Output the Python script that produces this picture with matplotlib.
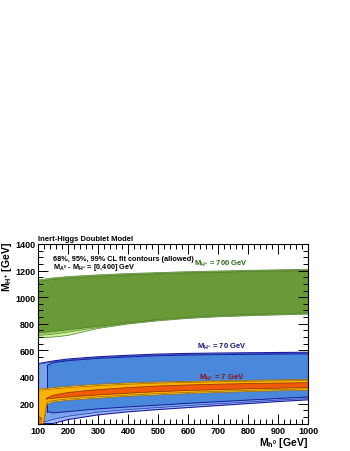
import matplotlib
matplotlib.use("Agg")
import matplotlib.pyplot as plt
import numpy as np
from matplotlib.ticker import MultipleLocator

plt.rcParams['font.family'] = ['Liberation Sans', 'DejaVu Sans']
plt.rcParams['mathtext.fontset'] = 'custom'
plt.rcParams['mathtext.rm'] = 'Liberation Sans:bold'
plt.rcParams['mathtext.it'] = 'Liberation Sans:bold'
plt.rcParams['mathtext.bf'] = 'Liberation Sans:bold'

# ---- data ----
mh = [100, 150, 200, 300, 400, 500, 600, 700, 800, 900, 1000]

# M_H+ = 700 GeV
g99_hi = [1130, 1145, 1155, 1168, 1178, 1185, 1192, 1197, 1202, 1206, 1210]
g95_hi = [1124, 1139, 1149, 1162, 1172, 1180, 1187, 1192, 1197, 1201, 1205]
g68_hi = [1118, 1133, 1143, 1157, 1167, 1175, 1182, 1187, 1192, 1196, 1200]
g99_lo = [695, 700, 712, 765, 798, 822, 840, 852, 860, 866, 872]
g95_lo = [712, 722, 738, 772, 803, 827, 845, 857, 865, 871, 877]
g68_lo = [730, 742, 755, 780, 808, 832, 850, 862, 870, 876, 882]

# M_H+ = 70 GeV
b99_hi = [500, 520, 535, 552, 563, 572, 577, 580, 582, 584, 586]
b95_hi = [496, 514, 529, 546, 557, 566, 571, 574, 576, 578, 580]
b99_lo = [50, 50, 80, 115, 138, 155, 170, 185, 200, 215, 228]
b95_lo = [50, 80, 105, 135, 155, 170, 185, 198, 212, 226, 238]
mh68b = [131, 150, 200, 300, 400, 500, 600, 700, 800, 900, 1000]
b68_hi = [487, 508, 523, 540, 551, 560, 565, 568, 570, 572, 574]
b68_lo = [140, 130, 140, 160, 175, 188, 202, 214, 226, 238, 250]

# M_H+ = 7 GeV
mhy = [100, 118, 130, 150, 200, 300, 400, 500, 600, 700, 800, 900, 1000]
y99_hi = [310, 313, 315, 320, 330, 345, 355, 362, 367, 371, 375, 378, 382]
y99_lo = [50, 50, 195, 212, 225, 240, 255, 265, 275, 283, 290, 296, 300]
y95_hi = [300, 303, 305, 310, 320, 335, 346, 354, 359, 364, 368, 371, 375]
y95_lo = [50, 50, 210, 222, 235, 250, 264, 275, 284, 292, 299, 305, 310]
mho = [128, 150, 200, 300, 400, 500, 600, 700, 800, 900, 1000]
o68_hi = [240, 262, 283, 305, 320, 332, 340, 346, 350, 354, 357]
o68_lo = [235, 240, 250, 265, 278, 290, 298, 305, 311, 316, 320]
mho2 = [100, 104, 108, 112]
o68b_hi = [95, 100, 95, 80]
o68b_lo = [50, 50, 50, 50]

xlim = (100, 1000)
ylim = (50, 1400)
xticks = [100, 200, 300, 400, 500, 600, 700, 800, 900, 1000]
yticks = [200, 400, 600, 800, 1000, 1200, 1400]

fig = plt.figure(figsize=(3.5, 4.52), dpi=100)
ax = fig.add_axes([0.1086, 0.0608, 0.7714, 0.3972])


def band(x, lo, hi, fc, ec, lw=0.8, z=1):
    ax.fill_between(x, lo, hi, facecolor=fc, edgecolor='none', zorder=z)
    ax.plot(x, hi, color=ec, lw=lw, zorder=z + 0.1)
    ax.plot(x, lo, color=ec, lw=lw, zorder=z + 0.1)
    ax.plot([x[0], x[0]], [lo[0], hi[0]], color=ec, lw=lw, zorder=z + 0.1)


# green
band(mh, g99_lo, g99_hi, '#ccef9c', '#4f7e2f', 0.5, 1)
band(mh, g95_lo, g95_hi, '#9ccf5f', '#4f7e2f', 0.4, 1.2)
band(mh, g68_lo, g68_hi, '#6a9a37', '#3f6e1f', 0.4, 1.4)
# blue
band(mh, b99_lo, b99_hi, '#9fbdf6', '#1a1a9a', 0.8, 2)
band(mh, b95_lo, b95_hi, '#7aa3ee', '#2233b0', 0.5, 2.2)
band(mh68b, b68_lo, b68_hi, '#4a88dc', '#1a1a9a', 0.7, 2.4)
# yellow / orange
band(mhy, y99_lo, y99_hi, '#ffdf33', '#a06000', 0.5, 3)
band(mhy, y95_lo, y95_hi, '#f9b200', '#a06000', 0.5, 3.2)
band(mho, o68_lo, o68_hi, '#f05a0a', '#8a3000', 0.5, 3.4)
band(mho2, o68b_lo, o68b_hi, '#f07a0a', '#8a3000', 0.5, 3.4)

ax.set_xlim(*xlim)
ax.set_ylim(*ylim)
ax.set_xticks(xticks)
ax.set_yticks(yticks)
ax.xaxis.set_minor_locator(MultipleLocator(20))
ax.yaxis.set_minor_locator(MultipleLocator(50))
ax.tick_params(which='both', direction='in', top=True, right=True,
               labelsize=6.5, width=0.7, pad=2)
ax.tick_params(which='major', length=7)
ax.tick_params(which='minor', length=3.5)
for lab in ax.get_xticklabels() + ax.get_yticklabels():
    lab.set_fontweight('bold')
for s in ax.spines.values():
    s.set_linewidth(0.8)
    s.set_zorder(10)

fig.text(308 / 350, 1 - 443 / 452, r'M$_{h^{0}}$ [GeV]', fontsize=7.5,
         fontweight='bold', ha='right', va='center')
fig.text(7 / 350, 1 - 242 / 452, r'M$_{H^{+}}$ [GeV]', fontsize=7.5,
         fontweight='bold', ha='center', va='top', rotation=90)

fig.text(0.1086, 0.462, 'Inert-Higgs Doublet Model', fontsize=5.5,
         fontweight='bold', ha='left', va='bottom')
ax.text(150, 1290, '68%, 95%, 99% CL fit contours (allowed)', fontsize=5.3,
        fontweight='bold', ha='left', va='center')
ax.text(150, 1228, r'M$_{A^{0}}$ - M$_{H^{+}}$ = [0,400] GeV', fontsize=5.3,
        fontweight='bold', ha='left', va='center')
ax.text(620, 1257, r'M$_{H^{+}}$ = 700 GeV', fontsize=5.5, fontweight='bold',
        color='#2f6a1a', ha='left', va='center')
ax.text(630, 632, r'M$_{H^{+}}$ = 70 GeV', fontsize=5.5, fontweight='bold',
        color='#14146e', ha='left', va='center')
ax.text(637, 402, r'M$_{H^{+}}$ = 7 GeV', fontsize=5.5, fontweight='bold',
        color='#8a1010', ha='left', va='center')

fig.savefig('out.png', dpi=100)
